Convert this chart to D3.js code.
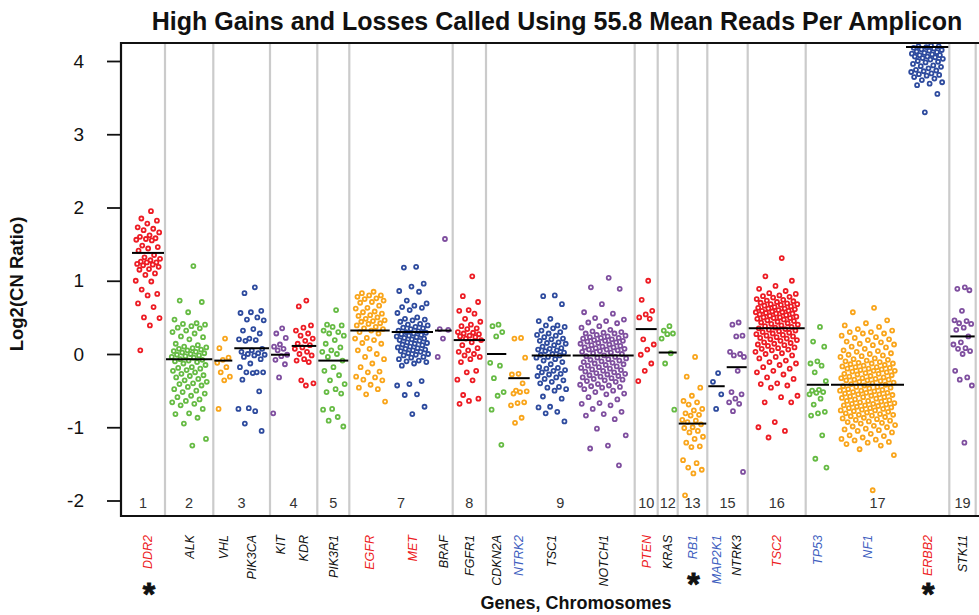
<!DOCTYPE html>
<html>
<head>
<meta charset="utf-8">
<script src="https://cdn.jsdelivr.net/npm/d3@7"></script>
<style>
  body { margin: 0; background: #fff; }
  svg text { font-family: "Liberation Sans", Arial, sans-serif; }
</style>
</head>
<body>
<div id="chart"></div>
<script>
//----- data

var genes = ["DDR2", "ALK", "VHL", "PIK3CA", "KIT", "KDR", "PIK3R1", "EGFR", "MET", "BRAF",
  "FGFR1", "CDKN2A", "NTRK2", "TSC1", "NOTCH1", "PTEN", "KRAS", "RB1", "MAP2K1", "NTRK3",
  "TSC2", "TP53", "NF1", "ERBB2", "STK11"];

var chromosomes = [1, 2, 3, 3, 4, 4, 5, 7, 7, 7, 8, 9, 9, 9, 9, 10, 12, 13, 15, 15, 16, 17, 17, 17, 19];

// call shown on the gene label: "gain" (red), "loss" (blue) or none
var geneCall = ["gain", "", "", "", "", "", "", "gain", "gain", "", "", "", "loss", "", "",
  "gain", "", "loss", "loss", "", "gain", "loss", "loss", "gain", ""];

var starred = ["DDR2", "RB1", "ERBB2"];

var geneMedian = [1.38, -0.07, -0.09, 0.08, -0.01, 0.11, -0.09, 0.32, 0.30, 0.32,
  0.19, 0.0, -0.33, -0.02, -0.02, 0.34, 0.02, -0.95, -0.44, -0.18,
  0.35, -0.42, -0.42, 4.19, 0.24];

// log2 copy number ratio of each amplicon
var DDR2 = [1.95, 1.85, 1.82, 1.78, 1.73, 1.71, 1.69, 1.66, 1.62, 1.60, 1.58, 1.57, 1.56, 1.55, 1.48,
  1.46, 1.44, 1.41, 1.35, 1.32, 1.30, 1.28, 1.26, 1.25, 1.25, 1.23, 1.22, 1.21, 1.19, 1.16, 1.15,
  1.10, 1.08, 1.00, 0.99, 0.88, 0.82, 0.80, 0.69, 0.64, 0.50, 0.49, 0.39, 0.05];
var ALK = [1.20, 0.73, 0.71, 0.57, 0.47, 0.42, 0.41, 0.40, 0.38, 0.36, 0.35, 0.32, 0.30, 0.28, 0.24,
  0.23, 0.20, 0.14, 0.12, 0.10, 0.09, 0.08, 0.07, 0.06, 0.05, 0.04, 0.03, 0.02, 0.01, 0.0, -0.01,
  -0.02, -0.03, -0.04, -0.05, -0.07, -0.08, -0.09, -0.10, -0.11, -0.13, -0.15, -0.18, -0.19, -0.20,
  -0.22, -0.23, -0.25, -0.27, -0.29, -0.30, -0.32, -0.34, -0.36, -0.38, -0.40, -0.41, -0.43, -0.45,
  -0.48, -0.50, -0.52, -0.54, -0.57, -0.59, -0.62, -0.64, -0.66, -0.68, -0.70, -0.75, -0.81, -0.82,
  -0.87, -0.95, -1.16, -1.25];
var VHL = [0.21, 0.08, -0.05, -0.08, -0.12, -0.18, -0.25, -0.31, -0.36, -0.75];
var PIK3CA = [0.91, 0.83, 0.59, 0.57, 0.56, 0.50, 0.47, 0.46, 0.34, 0.32, 0.28, 0.21, 0.20, 0.19,
  0.18, 0.07, 0.05, 0.03, 0.01, 0.0, -0.01, -0.02, -0.04, -0.07, -0.13, -0.18, -0.25, -0.25, -0.25,
  -0.26, -0.35, -0.51, -0.74, -0.75, -0.78, -0.95, -1.05];
var KIT = [0.35, 0.28, 0.22, 0.13, 0.10, 0.07, 0.05, -0.01, -0.03, -0.08, -0.14, -0.32, -0.81];
var KDR = [0.73, 0.65, 0.39, 0.36, 0.32, 0.28, 0.25, 0.21, 0.18, 0.14, 0.12, 0.09, 0.07, 0.03, 0.0,
  -0.02, -0.07, -0.09, -0.11, -0.36, -0.40, -0.43];
var PIK3R1 = [0.60, 0.40, 0.39, 0.37, 0.32, 0.30, 0.28, 0.25, 0.19, 0.14, 0.09, 0.05, 0.03, 0.0,
  -0.04, -0.09, -0.18, -0.23, -0.29, -0.36, -0.41, -0.48, -0.52, -0.54, -0.75, -0.76, -0.86, -0.91, -0.99];
var EGFR = [0.85, 0.83, 0.80, 0.80, 0.78, 0.76, 0.75, 0.73, 0.71, 0.70, 0.66, 0.63, 0.62, 0.58, 0.57,
  0.55, 0.53, 0.52, 0.50, 0.48, 0.46, 0.45, 0.44, 0.42, 0.41, 0.39, 0.37, 0.35, 0.34, 0.32, 0.30,
  0.28, 0.22, 0.21, 0.19, 0.15, 0.14, 0.07, 0.05, 0.0, -0.04, -0.07, -0.13, -0.18, -0.24, -0.25,
  -0.31, -0.32, -0.35, -0.36, -0.42, -0.46, -0.48, -0.55, -0.65];
var MET = [1.19, 1.18, 0.96, 0.92, 0.86, 0.85, 0.73, 0.69, 0.66, 0.64, 0.63, 0.60, 0.56, 0.50, 0.48,
  0.47, 0.46, 0.44, 0.41, 0.40, 0.39, 0.37, 0.36, 0.35, 0.34, 0.32, 0.31, 0.30, 0.29, 0.28, 0.27,
  0.26, 0.25, 0.24, 0.23, 0.22, 0.21, 0.20, 0.19, 0.18, 0.16, 0.15, 0.14, 0.13, 0.12, 0.10, 0.09,
  0.08, 0.07, 0.06, 0.05, 0.04, 0.03, 0.01, 0.0, -0.01, -0.02, -0.04, -0.05, -0.07, -0.09, -0.10,
  -0.11, -0.13, -0.16, -0.37, -0.41, -0.43, -0.55, -0.56, -0.72, -0.82];
var BRAF = [1.57, 0.34, 0.33, 0.21, -0.04];
var FGFR1 = [1.06, 0.79, 0.71, 0.60, 0.59, 0.55, 0.48, 0.44, 0.40, 0.38, 0.35, 0.34, 0.30, 0.29,
  0.28, 0.27, 0.25, 0.24, 0.23, 0.21, 0.19, 0.16, 0.12, 0.08, 0.05, 0.03, 0.0, -0.02, -0.04, -0.07,
  -0.11, -0.23, -0.25, -0.35, -0.36, -0.56, -0.61, -0.64, -0.68];
var CDKN2A = [0.40, 0.38, 0.30, 0.24, -0.12, -0.16, -0.33, -0.52, -0.57, -0.76, -1.24];
var NTRK2 = [0.22, 0.21, -0.05, -0.27, -0.28, -0.40, -0.50, -0.51, -0.52, -0.54, -0.66, -0.67, -0.70, -0.87, -0.94];
var TSC1 = [0.80, 0.79, 0.68, 0.48, 0.45, 0.39, 0.39, 0.37, 0.35, 0.32, 0.30, 0.28, 0.26, 0.25, 0.23,
  0.21, 0.20, 0.18, 0.16, 0.15, 0.14, 0.12, 0.10, 0.08, 0.07, 0.06, 0.05, 0.04, 0.02, 0.0, -0.01,
  -0.02, -0.04, -0.05, -0.07, -0.09, -0.11, -0.14, -0.18, -0.19, -0.20, -0.22, -0.23, -0.25, -0.27,
  -0.28, -0.30, -0.32, -0.34, -0.36, -0.38, -0.40, -0.45, -0.46, -0.48, -0.50, -0.58, -0.61, -0.72,
  -0.73, -0.79, -0.81, -0.92];
var NOTCH1 = [1.04, 0.91, 0.89, 0.68, 0.57, 0.55, 0.49, 0.47, 0.45, 0.43, 0.42, 0.38, 0.36, 0.33,
  0.31, 0.30, 0.29, 0.28, 0.28, 0.26, 0.25, 0.24, 0.23, 0.22, 0.22, 0.21, 0.20, 0.19, 0.18, 0.18,
  0.17, 0.16, 0.15, 0.14, 0.13, 0.12, 0.11, 0.10, 0.09, 0.09, 0.08, 0.07, 0.06, 0.06, 0.05, 0.04,
  0.03, 0.02, 0.01, 0.0, -0.02, -0.03, -0.04, -0.05, -0.06, -0.07, -0.08, -0.09, -0.10, -0.11, -0.12,
  -0.13, -0.14, -0.15, -0.16, -0.17, -0.18, -0.19, -0.20, -0.21, -0.22, -0.23, -0.24, -0.25, -0.26,
  -0.27, -0.28, -0.29, -0.30, -0.31, -0.32, -0.33, -0.34, -0.35, -0.36, -0.37, -0.38, -0.41, -0.42,
  -0.43, -0.44, -0.45, -0.46, -0.48, -0.50, -0.52, -0.54, -0.55, -0.59, -0.62, -0.67, -0.68, -0.70,
  -0.75, -0.79, -0.82, -0.84, -0.89, -1.02, -1.11, -1.25, -1.29, -1.52];
var PTEN = [1.00, 0.74, 0.59, 0.54, 0.50, 0.48, 0.20, 0.13, 0.06, -0.01, -0.13, -0.23, -0.37];
var KRAS = [0.38, 0.32, 0.28, 0.27, 0.21, 0.01, -0.13, -0.76];
var RB1 = [-0.04, -0.31, -0.46, -0.57, -0.64, -0.66, -0.69, -0.75, -0.77, -0.81, -0.83, -0.84, -0.90,
  -0.91, -0.93, -0.96, -1.00, -1.01, -1.05, -1.07, -1.13, -1.16, -1.21, -1.26, -1.27, -1.45, -1.49,
  -1.55, -1.58, -1.63, -1.93];
var MAP2K1 = [-0.26, -0.38, -0.55, -0.75];
var NTRK3 = [0.43, 0.40, 0.25, 0.24, 0.03, 0.0, -0.02, -0.04, -0.23, -0.52, -0.55, -0.61, -0.66,
  -0.68, -0.78, -1.61];
var TSC2 = [1.31, 1.06, 1.00, 0.93, 0.89, 0.86, 0.83, 0.82, 0.80, 0.79, 0.78, 0.77, 0.75, 0.74,
  0.73, 0.72, 0.71, 0.70, 0.69, 0.68, 0.68, 0.67, 0.66, 0.65, 0.64, 0.63, 0.62, 0.62, 0.61, 0.60,
  0.59, 0.59, 0.58, 0.57, 0.57, 0.56, 0.55, 0.55, 0.54, 0.53, 0.52, 0.51, 0.50, 0.50, 0.49, 0.49,
  0.48, 0.47, 0.46, 0.45, 0.44, 0.43, 0.42, 0.41, 0.40, 0.39, 0.38, 0.37, 0.36, 0.35, 0.34, 0.33,
  0.32, 0.31, 0.30, 0.29, 0.28, 0.27, 0.26, 0.25, 0.24, 0.23, 0.22, 0.21, 0.20, 0.19, 0.18, 0.16,
  0.15, 0.14, 0.13, 0.12, 0.11, 0.09, 0.08, 0.07, 0.06, 0.05, 0.03, 0.01, 0.0, -0.02, -0.04, -0.06,
  -0.09, -0.11, -0.13, -0.15, -0.18, -0.20, -0.23, -0.25, -0.28, -0.32, -0.34, -0.40, -0.41, -0.43,
  -0.46, -0.57, -0.59, -0.66, -0.66, -0.93, -1.00, -1.05, -1.14];
var TP53 = [0.37, 0.17, 0.10, -0.10, -0.13, -0.16, -0.25, -0.37, -0.49, -0.50, -0.52, -0.53, -0.55,
  -0.61, -0.69, -0.79, -0.81, -0.84, -1.11, -1.43, -1.55];
var NF1 = [0.63, 0.57, 0.46, 0.42, 0.39, 0.37, 0.34, 0.32, 0.30, 0.30, 0.28, 0.28, 0.25, 0.23, 0.22,
  0.20, 0.19, 0.17, 0.16, 0.14, 0.13, 0.12, 0.10, 0.09, 0.07, 0.05, 0.04, 0.03, 0.01, 0.0, -0.01,
  -0.02, -0.03, -0.04, -0.06, -0.07, -0.08, -0.09, -0.10, -0.11, -0.12, -0.13, -0.13, -0.14, -0.15,
  -0.16, -0.17, -0.18, -0.18, -0.19, -0.20, -0.20, -0.21, -0.22, -0.23, -0.23, -0.24, -0.25, -0.26,
  -0.27, -0.27, -0.28, -0.29, -0.30, -0.31, -0.32, -0.33, -0.33, -0.34, -0.35, -0.35, -0.36, -0.36,
  -0.37, -0.38, -0.39, -0.40, -0.41, -0.42, -0.43, -0.44, -0.45, -0.45, -0.46, -0.47, -0.48, -0.49,
  -0.50, -0.50, -0.51, -0.52, -0.53, -0.53, -0.54, -0.55, -0.55, -0.56, -0.57, -0.58, -0.59, -0.59,
  -0.60, -0.61, -0.62, -0.63, -0.64, -0.64, -0.65, -0.66, -0.67, -0.68, -0.68, -0.69, -0.70, -0.70,
  -0.71, -0.72, -0.73, -0.74, -0.74, -0.75, -0.76, -0.77, -0.77, -0.78, -0.79, -0.80, -0.81, -0.82,
  -0.83, -0.83, -0.84, -0.85, -0.86, -0.87, -0.88, -0.89, -0.90, -0.91, -0.92, -0.93, -0.94, -0.95,
  -0.97, -0.98, -0.99, -1.00, -1.02, -1.03, -1.04, -1.05, -1.07, -1.09, -1.11, -1.12, -1.14, -1.16,
  -1.17, -1.18, -1.20, -1.21, -1.23, -1.25, -1.30, -1.38, -1.86];
var ERBB2 = [4.21, 4.20, 4.20, 4.19, 4.18, 4.17, 4.16, 4.15, 4.14, 4.13, 4.12, 4.11, 4.10, 4.09,
  4.08, 4.08, 4.06, 4.06, 4.05, 4.04, 4.03, 4.02, 4.00, 3.99, 3.98, 3.96, 3.94, 3.93, 3.92, 3.90,
  3.88, 3.87, 3.86, 3.85, 3.83, 3.82, 3.81, 3.80, 3.78, 3.76, 3.74, 3.71, 3.69, 3.67, 3.55, 3.30];
var STK11 = [0.91, 0.89, 0.87, 0.59, 0.46, 0.45, 0.42, 0.41, 0.36, 0.33, 0.24, 0.16, 0.13, 0.08,
  0.07, 0.04, 0.0, -0.23, -0.32, -0.35, -0.43, -1.21];

var geneValues = [DDR2, ALK, VHL, PIK3CA, KIT, KDR, PIK3R1, EGFR, MET, BRAF, FGFR1, CDKN2A, NTRK2,
  TSC1, NOTCH1, PTEN, KRAS, RB1, MAP2K1, NTRK3, TSC2, TP53, NF1, ERBB2, STK11];

var yTicks = [-2, -1, 0, 1, 2, 3, 4];

//----- layout

// relative width of each gene's column on the x axis
var bandUnits = [34, 48.3, 20, 36.7, 20.7, 26.6, 32, 41.4, 43.3, 18.7, 33.3, 21.3, 23.4, 41, 63,
  23, 20, 29.6, 18.4, 22, 58, 24.3, 75, 44.3, 26.4];

var width = 979, height = 615;
var plotLeft = 121, plotTop = 43, plotBottom = 516;

var pointColors = ["#ed1c24", "#66bb44", "#f9a51b", "#2e4b9e", "#7f4f9f"];
var callColor = { gain: "#ed1c24", loss: "#3f5fbf", "": "#111" };

var svg = d3.select("#chart").append("svg")
  .attr("width", width)
  .attr("height", height);

// cumulative band positions
var starts = [0];
bandUnits.forEach(function(u, i) { starts.push(starts[i] + u); });

var x = d3.scaleLinear()
  .domain([0, d3.sum(bandUnits)])
  .range([131, 975.7]);

var y = d3.scaleLinear()
  .domain([-2, 4])
  .range([500.5, 61]);

// chromosome extents
var chroms = [];
chromosomes.forEach(function(c, i) {
  var last = chroms[chroms.length - 1];
  if (last && last.chr === c) {
    last.end = starts[i + 1];
  } else {
    chroms.push({ chr: c, start: starts[i], end: starts[i + 1] });
  }
});

// grey chromosome separators
svg.append("g").selectAll("line")
  .data(chroms)
  .enter()
  .append("line")
  .attr("x1", function(d) { return x(d.end); })
  .attr("x2", function(d) { return x(d.end); })
  .attr("y1", plotTop)
  .attr("y2", plotBottom)
  .attr("stroke", "#cbcbcb")
  .attr("stroke-width", 2.2);

// chromosome numbers
svg.append("g").selectAll("text")
  .data(chroms)
  .enter()
  .append("text")
  .attr("x", function(d, i) {
    var x0 = i === 0 ? plotLeft : x(d.start);
    return (x0 + x(d.end)) / 2;
  })
  .attr("y", 508)
  .attr("text-anchor", "middle")
  .attr("font-size", "14.5px")
  .attr("fill", "#333")
  .text(function(d) { return d.chr; });

// amplicon points
var points = [];
geneValues.forEach(function(vals, g) {
  var x0 = x(starts[g]), x1 = x(starts[g + 1]);
  var pad = Math.max(2.5, (x1 - x0) * 0.13);
  vals.forEach(function(v, i) {
    var frac = ((i + 1) * 0.6180339887) % 1;
    points.push({ g: g, v: v, px: x0 + pad + frac * (x1 - x0 - 2 * pad) });
  });
});

svg.append("g").selectAll("circle")
  .data(points)
  .enter()
  .append("circle")
  .attr("cx", function(d) { return d.px; })
  .attr("cy", function(d) { return y(d.v); })
  .attr("r", 2.0)
  .attr("fill", "#fff")
  .attr("stroke", function(d) { return pointColors[d.g % 5]; })
  .attr("stroke-width", 1.8);

// median lines
svg.append("g").selectAll("line")
  .data(geneMedian)
  .enter()
  .append("line")
  .attr("x1", function(d, i) { return x(starts[i]) + 1; })
  .attr("x2", function(d, i) { return x(starts[i + 1]) - 1; })
  .attr("y1", function(d) { return y(d); })
  .attr("y2", function(d) { return y(d); })
  .attr("stroke", "#000")
  .attr("stroke-width", 2);

// frame
svg.append("line")
  .attr("x1", plotLeft).attr("x2", width)
  .attr("y1", plotTop).attr("y2", plotTop)
  .attr("stroke", "#111").attr("stroke-width", 2);
svg.append("line")
  .attr("x1", plotLeft).attr("x2", width)
  .attr("y1", plotBottom).attr("y2", plotBottom)
  .attr("stroke", "#111").attr("stroke-width", 2);

// y axis
var yAxis = d3.axisLeft(y)
  .tickValues(yTicks)
  .tickSize(14)
  .tickPadding(23)
  .tickFormat(function(d) { return String(d); });

var ga = svg.append("g")
  .attr("transform", "translate(" + plotLeft + ",0)")
  .call(yAxis);
ga.select(".domain").remove();
ga.selectAll(".tick line").attr("stroke", "#111").attr("stroke-width", 1.8);
ga.selectAll(".tick text")
  .attr("font-size", "19px")
  .attr("fill", "#111")
  .style("font-family", '"Liberation Sans", Arial, sans-serif');

svg.append("line")
  .attr("x1", plotLeft).attr("x2", plotLeft)
  .attr("y1", plotTop - 1).attr("y2", plotBottom + 1)
  .attr("stroke", "#111").attr("stroke-width", 2.2);

// gene labels
var labels = svg.append("g").selectAll("text")
  .data(genes)
  .enter()
  .append("text")
  .attr("transform", function(d, i) {
    var cx = (x(starts[i]) + x(starts[i + 1])) / 2;
    return "translate(" + cx + ",535) rotate(-90)";
  })
  .attr("dy", "0.35em")
  .attr("text-anchor", "end")
  .attr("font-size", "12.5px")
  .attr("font-style", "italic")
  .attr("fill", function(d, i) { return callColor[geneCall[i]]; })
  .text(function(d) { return d; });

// asterisks under the significant genes
labels.each(function(d, i) {
  if (starred.indexOf(d) < 0) return;
  var len = this.getComputedTextLength();
  var cx = (x(starts[i]) + x(starts[i + 1])) / 2;
  svg.append("text")
    .attr("x", cx + 1)
    .attr("y", Math.min(535 + len + 36, 605))
    .attr("text-anchor", "middle")
    .attr("font-size", "32px")
    .attr("font-weight", "bold")
    .attr("fill", "#111")
    .attr("stroke", "#111")
    .attr("stroke-width", 0.9)
    .text("*");
});

// titles
svg.append("text")
  .attr("x", 557)
  .attr("y", 30)
  .attr("text-anchor", "middle")
  .attr("font-size", "25px")
  .attr("font-weight", "bold")
  .attr("fill", "#111")
  .text("High Gains and Losses Called Using 55.8 Mean Reads Per Amplicon");

svg.append("text")
  .attr("transform", "translate(23,284) rotate(-90)")
  .attr("text-anchor", "middle")
  .attr("font-size", "18.5px")
  .attr("font-weight", "bold")
  .attr("fill", "#111")
  .text("Log2(CN Ratio)");

svg.append("text")
  .attr("x", 576)
  .attr("y", 609)
  .attr("text-anchor", "middle")
  .attr("font-size", "18px")
  .attr("font-weight", "bold")
  .attr("fill", "#111")
  .text("Genes, Chromosomes");
</script>
</body>
</html>
